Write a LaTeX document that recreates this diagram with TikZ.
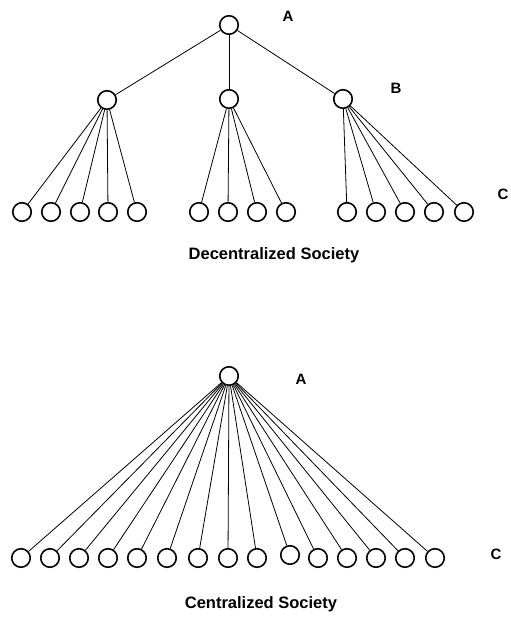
\documentclass[tikz,border=0pt]{standalone}
\usepackage{fontspec}
\setmainfont{Liberation Sans}
\usetikzlibrary{shapes}

\begin{document}
\begin{tikzpicture}[x=1pt, y=-1pt]
	\tikzstyle{member}=[
	draw,
	circle,
	line width=1.6pt,
	minimum size=18.5pt,
	inner sep=0pt
	]
	\tikzstyle{tie}=[line width=0.8pt]
	\tikzstyle{tag}=[font=\bfseries\fontsize{15}{15}\selectfont]
	\tikzstyle{heading}=[font=\bfseries\fontsize{16.5}{16.5}\selectfont]
	\useasboundingbox (0,0) rectangle (511,619);
	%
	% Decentralized Society
	\node[member] (ROOT) at (229,25) {};
	\node[member] (LEFT) at (107,100) {};
	\node[member] (MID) at (229,99) {};
	\node[member] (RIGHT) at (343,99) {};
	\foreach \x [count=\i] in {22,51,80,108,137}
		\node[member] (L\i) at (\x,212) {};
	\foreach \x [count=\i] in {199,228,257,286}
		\node[member] (M\i) at (\x,212) {};
	\foreach \x [count=\i] in {347,376,405,434,464}
		\node[member] (R\i) at (\x,212) {};
	\draw[tie] (ROOT) -- (LEFT);
	\draw[tie] (ROOT) -- (MID);
	\draw[tie] (ROOT) -- (RIGHT);
	\foreach \i in {1,...,5}
		\draw[tie] (LEFT) -- (L\i);
	\foreach \i in {1,...,4}
		\draw[tie] (MID) -- (M\i);
	\foreach \i in {1,...,5}
		\draw[tie] (RIGHT) -- (R\i);
	\node[tag] (TOPA) at (288,16) {A};
	\node[tag] (TOPB) at (396,88) {B};
	\node[tag] (TOPC) at (503,194) {C};
	\node[heading] (DECEN) at (274,255) {Decentralized Society};
	%
	% Centralized Society
	\node[member] (CROOT) at (229,376) {};
	\foreach \x/\y [count=\i] in {21/558,50/558,79/558,108/558,137/558,167/558,198/558,228/558,
		257/558,290/555,318/558,347/558,376/558,405/558,435/558}
	{
		\node[member] (C\i) at (\x,\y) {};
		\draw[tie] (CROOT) -- (C\i);
	}
	\node[tag] (BOTA) at (301,379) {A};
	\node[tag] (BOTC) at (496,554) {C};
	\node[heading] (CEN) at (261,604) {Centralized Society};
\end{tikzpicture}
\end{document}
